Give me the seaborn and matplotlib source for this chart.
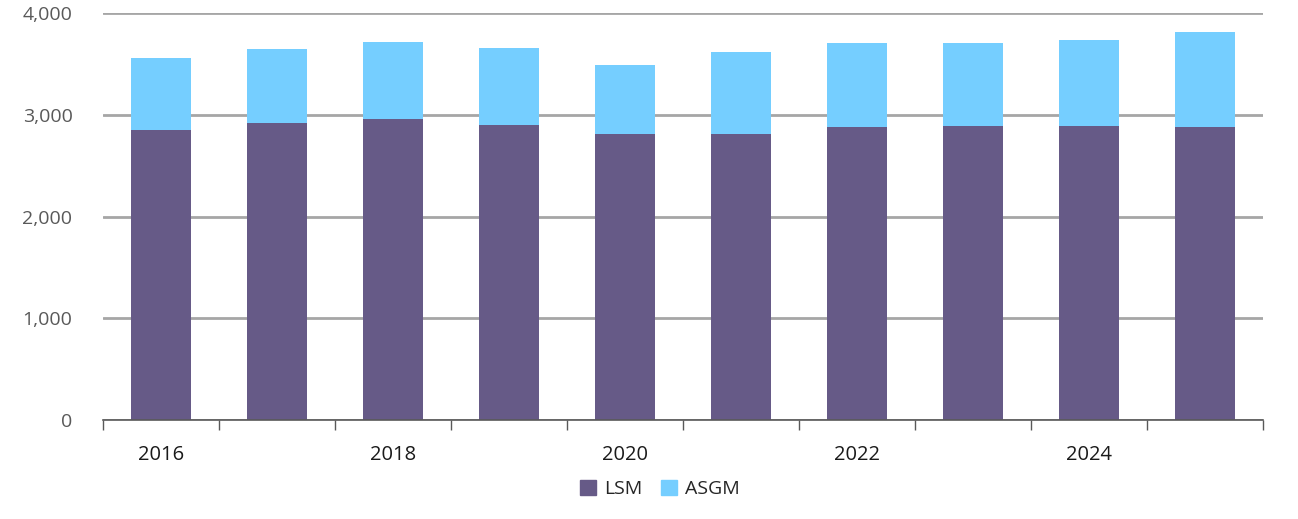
import matplotlib
matplotlib.use("Agg")
import matplotlib.pyplot as plt
import seaborn as sns
import pandas as pd
import numpy as np
from matplotlib.patches import Patch

years = ["2016", "2017", "2018", "2019", "2020", "2021", "2022", "2023", "2024", "2025"]
lsm = [2850, 2922, 2961, 2896, 2811, 2811, 2883, 2886, 2889, 2876]
asgm = [705, 721, 754, 757, 681, 806, 822, 819, 846, 937]
shown_labels = ["2016", "", "2018", "", "2020", "", "2022", "", "2024", ""]

LSM_COLOR = "#665A87"
ASGM_COLOR = "#75CEFF"

sns.set_theme(style="white")
plt.rcParams["font.family"] = ["Open Sans", "DejaVu Sans"]

df = pd.DataFrame({"year": years, "LSM": lsm, "ASGM": asgm})
df["total"] = df["LSM"] + df["ASGM"]

fig = plt.figure(figsize=(12.98, 5.19), dpi=100)
ax = fig.add_axes([103/1298, 1-420/519, 1160/1298, 407/519])

sns.barplot(data=df, x="year", y="total", color=ASGM_COLOR, width=0.51,
            saturation=1, ax=ax, zorder=3, linewidth=0)
sns.barplot(data=df, x="year", y="LSM", color=LSM_COLOR, width=0.51,
            saturation=1, ax=ax, zorder=3, linewidth=0)

ax.set_ylim(0, 4000)
ax.set_xlim(-0.5, 9.5)
ax.set_yticks([0, 1000, 2000, 3000, 4000])
ax.set_yticklabels(["0", "1,000", "2,000", "3,000", "4,000"])
ax.yaxis.grid(True, color="#A6A6A6", linewidth=2)
ax.set_axisbelow(True)
for s in ["top", "right", "left"]:
    ax.spines[s].set_visible(False)
ax.spines["bottom"].set_color("#595959")
ax.spines["bottom"].set_linewidth(1.2)
ax.spines["bottom"].set_zorder(5)

ax.set_xticks(range(len(years)))
ax.set_xticklabels(shown_labels)
ax.set_xticks(np.arange(-0.5, 10, 1), minor=True)
ax.tick_params(axis="x", which="major", bottom=False, length=0, pad=18,
               labelsize=14.5, labelcolor="#1a1a1a")
ax.tick_params(axis="x", which="minor", bottom=True, length=7, width=1,
               color="#595959", direction="out")
ax.tick_params(axis="y", length=0, pad=22, labelsize=14, labelcolor="#595959")
ax.set_xlabel("")
ax.set_ylabel("")

handles = [Patch(color=LSM_COLOR, label="LSM"), Patch(color=ASGM_COLOR, label="ASGM")]
fig.legend(handles=handles, loc="center", bbox_to_anchor=(660/1298, 1-489/519),
           ncol=2, frameon=False, fontsize=14, handlelength=0.8, handleheight=0.8,
           handletextpad=0.4, columnspacing=1.0)

fig.savefig("out.png", dpi=100)
